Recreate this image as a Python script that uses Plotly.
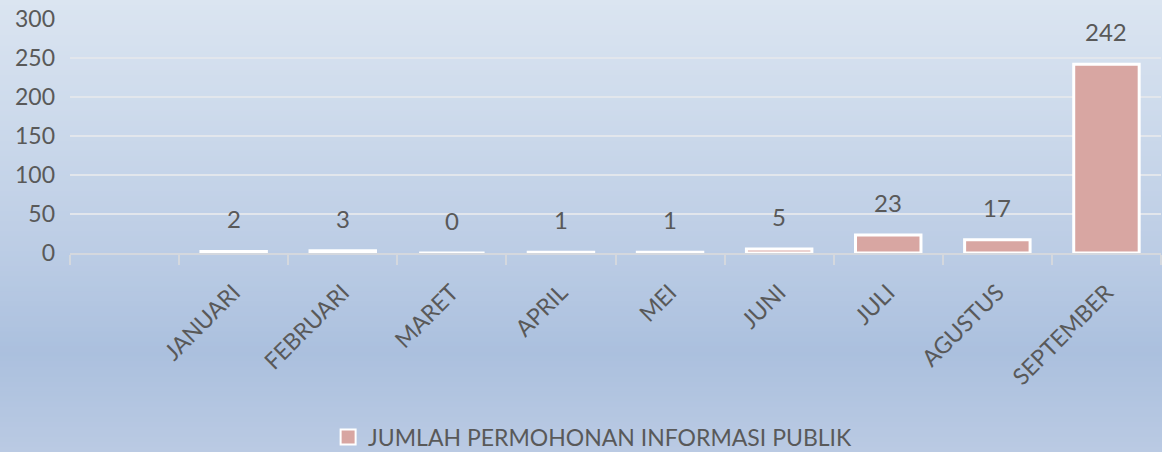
import plotly.express as px
import pandas as pd

BAR   = "#D8A6A2"
EDGE  = "#FFFFFF"
TEXT  = "#595959"
GRID  = "#E2E6EC"
AXIS  = "#D4D8DE"
FONT  = "Lato"

MONTHS  = [" ", "JANUARI", "FEBRUARI", "MARET", "APRIL", "MEI", "JUNI", "JULI", "AGUSTUS", "SEPTEMBER"]
COUNTS  = [None, 2, 3, 0, 1, 1, 5, 23, 17, 242]
SERIES  = "JUMLAH PERMOHONAN INFORMASI PUBLIK"
Y_TICKS = [0, 50, 100, 150, 200, 250, 300]

# top-to-bottom colour stops of the chart background
BG_STOPS = [(0.0, (219, 229, 241)), (0.55, (188, 205, 229)), (0.78, (171, 192, 222)), (1.0, (186, 202, 227))]

def bg_color(t: float):
    for (t0, c0), (t1, c1) in zip(BG_STOPS, BG_STOPS[1:]):
        if t <= t1:
            f = (t - t0) / (t1 - t0)
            r, g, b = (round(a + (z - a) * f) for a, z in zip(c0, c1))
            return f"rgb({r},{g},{b})"
    return "rgb(%d,%d,%d)" % BG_STOPS[-1][1]

def background_bands(n: int = 90):
    shapes = []
    for i in range(n):
        t0, t1 = i / n, (i + 1) / n
        shapes.append(dict(type="rect", xref="paper", yref="paper", x0=0, x1=1,
                           y0=1 - t1 - 0.002, y1=1 - t0, fillcolor=bg_color((t0 + t1) / 2),
                           line_width=0, layer="below"))
    return shapes

def bar_requests(df: pd.DataFrame):
    fig = px.bar(df, x="bulan", y="jumlah", color_discrete_sequence=[BAR],
                 category_orders={"bulan": MONTHS})
    fig.update_traces(marker_line_color=EDGE, marker_line_width=3, showlegend=False)
    # legend entry only: a filled square with a thin white rim
    fig.add_scatter(x=[None], y=[None], mode="markers", name=SERIES,
                    marker=dict(symbol="square", size=15, color=BAR, line=dict(color=EDGE, width=2)))
    for m, c in zip(MONTHS, COUNTS):
        if c is None:
            continue
        fig.add_annotation(x=m, y=c, text=str(c), showarrow=False, yanchor="bottom", yshift=16,
                           font=dict(family=FONT, size=24, color=TEXT))
    fig.update_layout(width=1162, height=452, margin=dict(l=0, r=0, t=0, b=0, autoexpand=False),
                      paper_bgcolor="rgb(186,202,227)", plot_bgcolor="rgba(0,0,0,0)",
                      bargap=0.4, shapes=background_bands(), showlegend=True,
                      font=dict(family=FONT, color=TEXT),
                      legend=dict(title_text="", orientation="h", x=0.51, xanchor="center",
                                  y=0.033, yanchor="middle", font=dict(size=23, color=TEXT),
                                  bgcolor="rgba(0,0,0,0)", itemsizing="trace"))
    fig.update_xaxes(title_text="", domain=[70 / 1162, 1161 / 1162], automargin=False,
                     tickangle=-45, tickfont=dict(size=23, color=TEXT), ticklabelstandoff=15,
                     ticks="outside", tickson="boundaries", ticklen=10, tickwidth=2, tickcolor=AXIS,
                     showline=True, linecolor=AXIS, linewidth=2, showgrid=False)
    fig.update_yaxes(title_text="", domain=[1 - 253 / 452, 1 - 19 / 452], automargin=False,
                     range=[0, 300], tickvals=Y_TICKS, tickfont=dict(size=23, color=TEXT),
                     ticklabelstandoff=14, showgrid=True, gridcolor=GRID, gridwidth=2,
                     zeroline=False, showline=False, ticks="")
    return fig

df = pd.DataFrame({"bulan": MONTHS, "jumlah": COUNTS})
fig = bar_requests(df)
fig.write_html("out.html", config={"displayModeBar": False},
               post_script="document.body.style.margin='0';")
